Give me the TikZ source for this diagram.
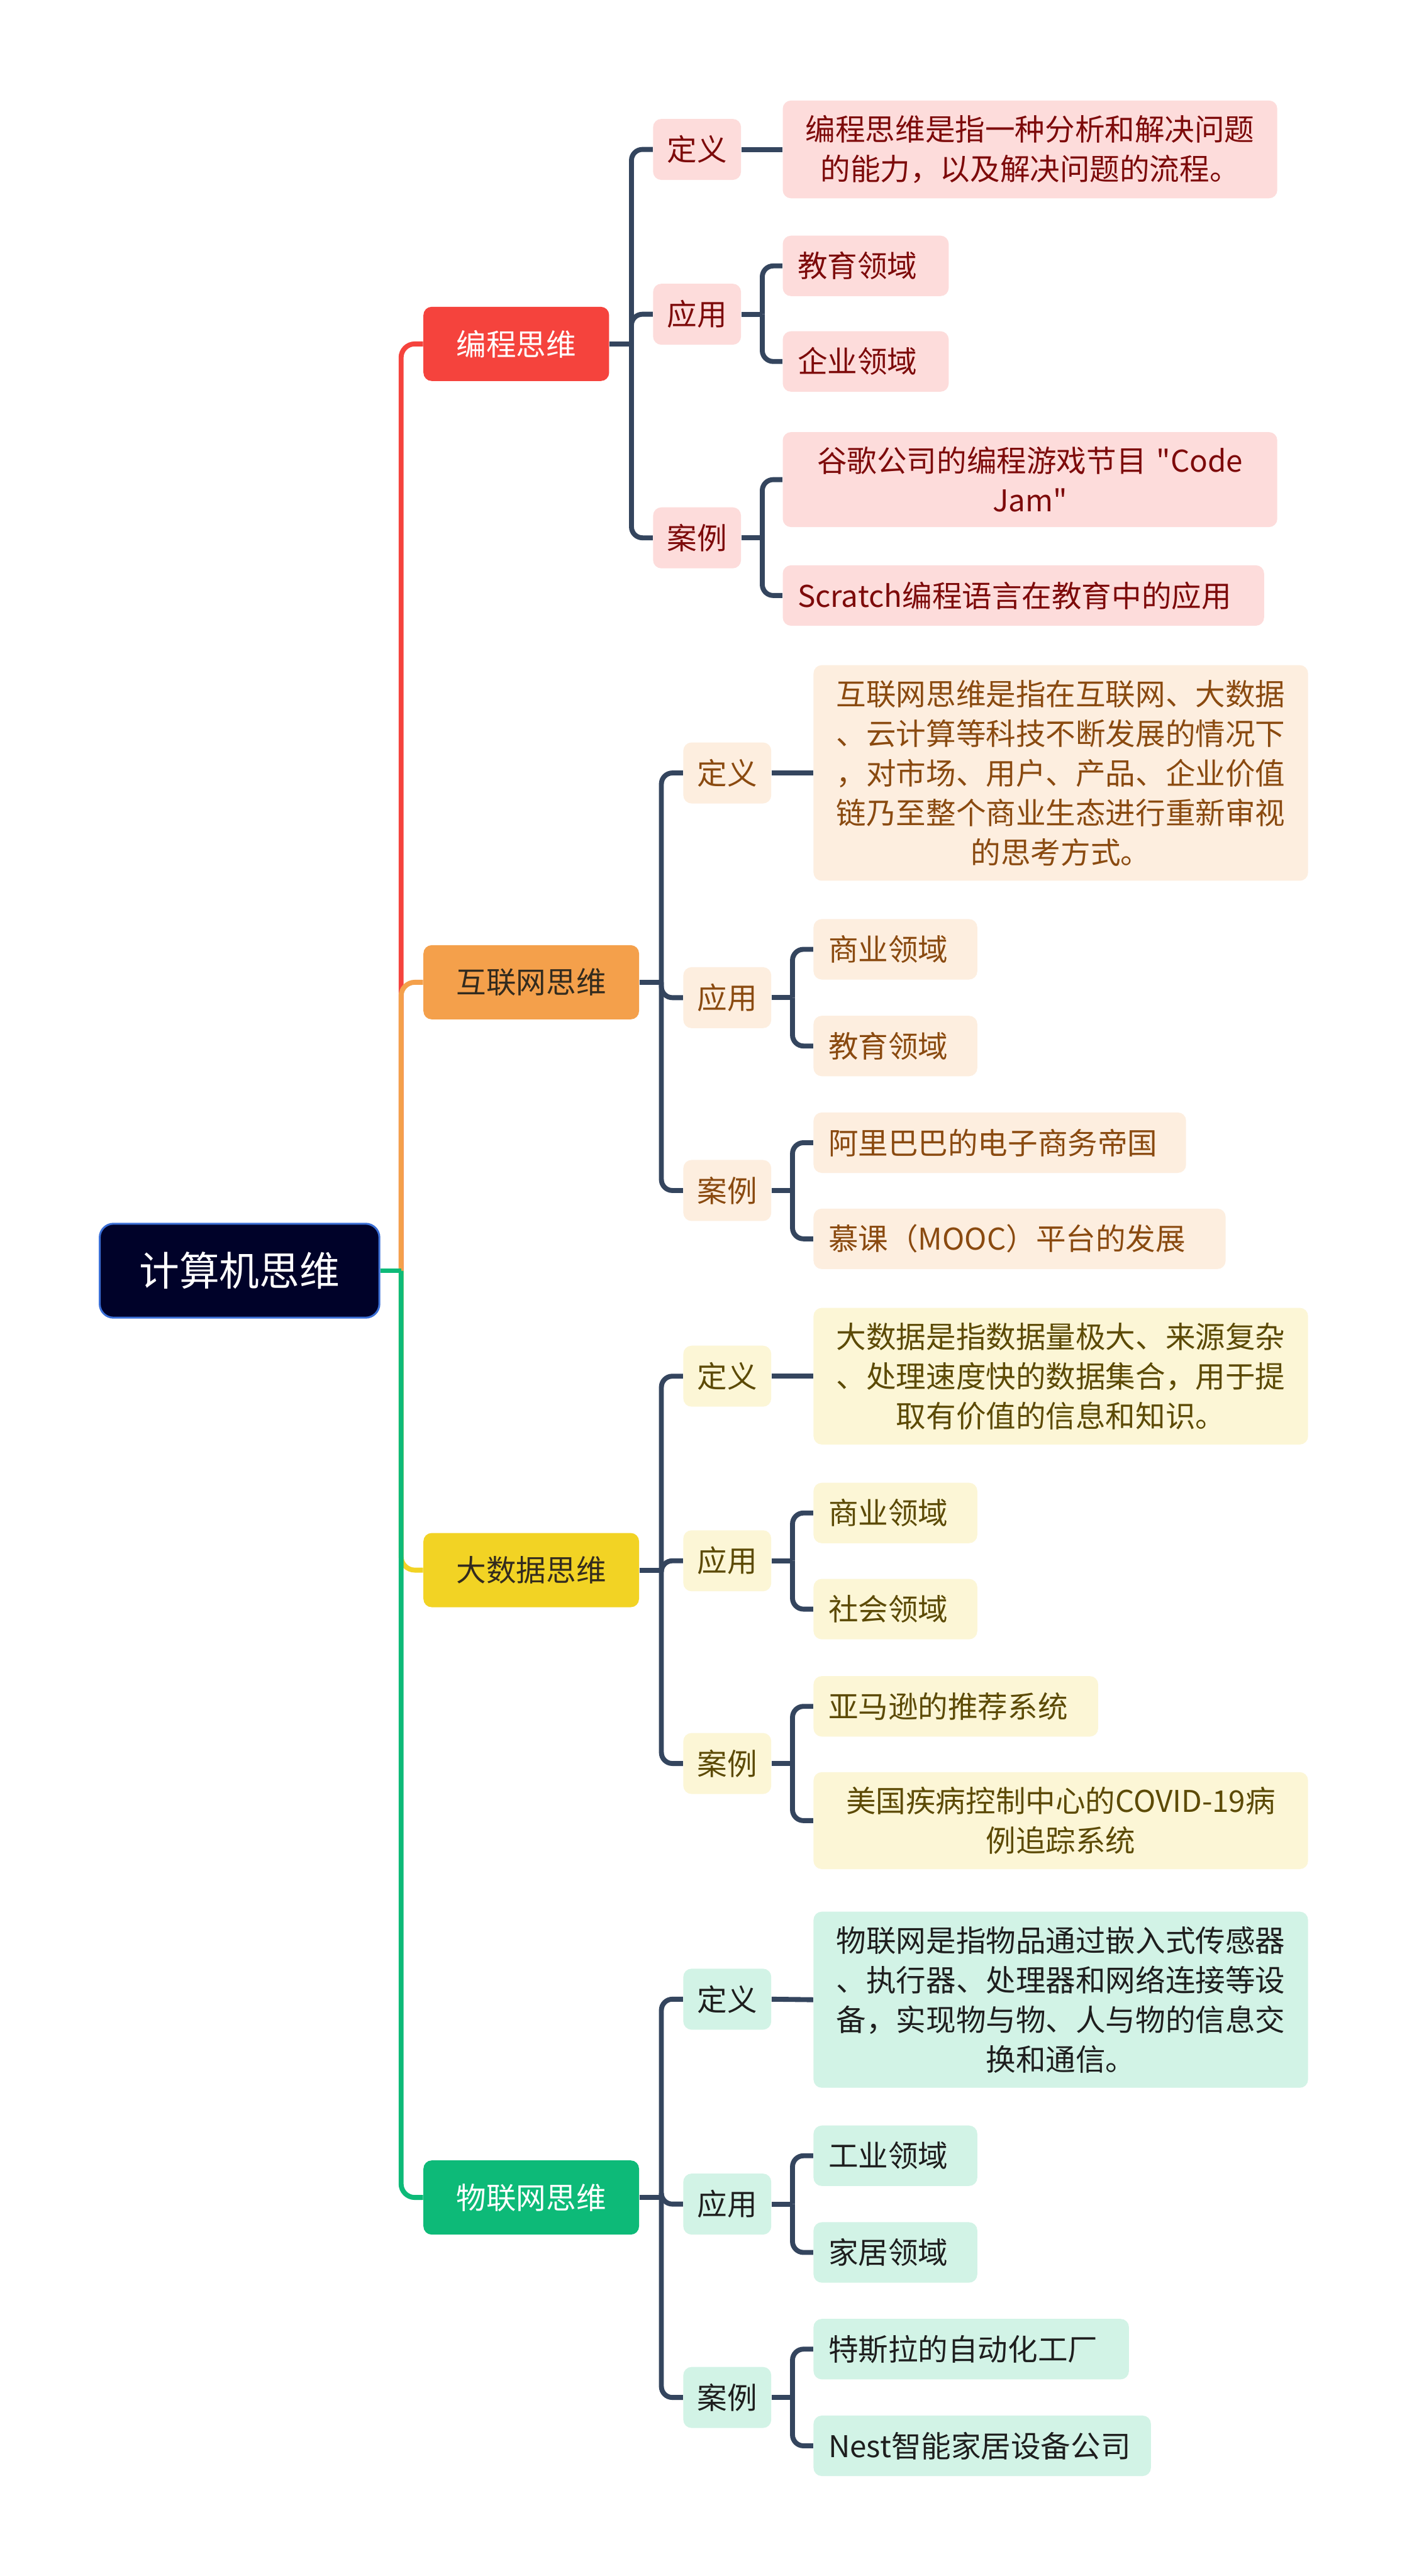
\documentclass[tikz,border=0pt]{standalone}
\usepackage{fontspec}
\setmainfont{Noto Sans CJK SC}[Ligatures=TeXOff]

\definecolor{rootFill}{HTML}{000229}
\definecolor{rootLine}{HTML}{3B6FD6}
\definecolor{linkGray}{HTML}{34455E}
\definecolor{topicText}{HTML}{332B1E}
\definecolor{bcRed}{HTML}{F5433D}
\definecolor{hlOrange}{HTML}{F4A04B}
\definecolor{dsjYellow}{HTML}{F2D324}
\definecolor{wlGreen}{HTML}{0DBA78}
\definecolor{bcFill}{HTML}{FDDCDB}
\definecolor{bcText}{HTML}{7D0A0A}
\definecolor{hlFill}{HTML}{FDEEDF}
\definecolor{hlText}{HTML}{8A4A10}
\definecolor{dsjFill}{HTML}{FCF6D6}
\definecolor{dsjText}{HTML}{5C4A05}
\definecolor{wlFill}{HTML}{D2F3E6}
\definecolor{wlText}{HTML}{1E1E1E}

\newcommand{\leafsize}{\fontsize{15.5pt}{20.5pt}\selectfont}
\newcommand{\rootsize}{\fontsize{20.8pt}{25pt}\selectfont}

\tikzset{
  box/.style={rounded corners=0.15cm, inner xsep=0.27cm, inner ysep=0.27cm,
    minimum height=1.10cm, font=\leafsize},
  rootbox/.style={fill=rootFill, draw=rootLine, line width=0.035cm,
    rounded corners=0.25cm, minimum width=5.09cm, minimum height=1.71cm,
    text=white, font=\rootsize},
  topic/.style={box, anchor=west, inner xsep=0.6cm, minimum height=1.35cm},
  tag/.style={box, anchor=west, inner xsep=0pt, minimum width=1.60cm,
    minimum height=1.11cm, fill=#1Fill, text=#1Text},
  leaf/.style={box, anchor=west, align=left, fill=#1Fill, text=#1Text},
  defn/.style={box, anchor=west, align=center, text width=8.46cm,
    fill=#1Fill, text=#1Text},
  trunk/.style={line width=0.09cm, rounded corners=0.25cm},
  link/.style={line width=0.09cm, draw=linkGray, rounded corners=0.2cm}
}

\begin{document}
\begin{tikzpicture}[x=1cm, y=-1cm]
  \fill[white] (0,0) rectangle (25.6,46.89);

  % Root
  \node[rootbox] (root) at (4.36,23.13) {计算机思维};
  \coordinate (hub) at (7.30,23.13);

  % First level
  \node[topic, fill=bcRed, text=white] (bc) at (7.70,6.26) {编程思维};
  \node[topic, fill=hlOrange, text=topicText] (hl) at (7.70,17.88) {互联网思维};
  \node[topic, fill=dsjYellow, text=topicText] (dsj) at (7.70,28.58) {大数据思维};
  \node[topic, fill=wlGreen, text=white] (wl) at (7.70,40.00) {物联网思维};

  % 编程思维
  \node[tag=bc] (bc-def) at (11.88,2.72) {定义};
  \node[tag=bc] (bc-app) at (11.88,5.72) {应用};
  \node[tag=bc] (bc-case) at (11.88,9.79) {案例};
  \node[defn=bc] (bc-def-txt) at (14.24,2.72)
    {编程思维是指一种分析和解决问题\\的能力，以及解决问题的流程。};
  \node[leaf=bc, text width=2.48cm] (bc-app1) at (14.24,4.84) {教育领域};
  \node[leaf=bc, text width=2.48cm] (bc-app2) at (14.24,6.58) {企业领域};
  \node[defn=bc] (bc-case1) at (14.24,8.73) {谷歌公司的编程游戏节目 "Code\\Jam"};
  \node[leaf=bc, text width=8.22cm] (bc-case2) at (14.24,10.84) {Scratch编程语言在教育中的应用};

  % 互联网思维
  \node[tag=hl] (hl-def) at (12.43,14.07) {定义};
  \node[tag=hl] (hl-app) at (12.43,18.16) {应用};
  \node[tag=hl] (hl-case) at (12.43,21.67) {案例};
  \node[defn=hl] (hl-def-txt) at (14.80,14.07)
    {互联网思维是指在互联网、大数据\\、云计算等科技不断发展的情况下\\，对市场、用户、产品、企业价值\\链乃至整个商业生态进行重新审视\\的思考方式。};
  \node[leaf=hl, text width=2.44cm] (hl-app1) at (14.80,17.28) {商业领域};
  \node[leaf=hl, text width=2.44cm] (hl-app2) at (14.80,19.04) {教育领域};
  \node[leaf=hl, text width=6.24cm] (hl-case1) at (14.80,20.80) {阿里巴巴的电子商务帝国};
  \node[leaf=hl, text width=6.96cm] (hl-case2) at (14.80,22.55) {慕课（MOOC）平台的发展};

  % 大数据思维
  \node[tag=dsj] (dsj-def) at (12.43,25.05) {定义};
  \node[tag=dsj] (dsj-app) at (12.43,28.41) {应用};
  \node[tag=dsj] (dsj-case) at (12.43,32.10) {案例};
  \node[defn=dsj] (dsj-def-txt) at (14.80,25.05)
    {大数据是指数据量极大、来源复杂\\、处理速度快的数据集合，用于提\\取有价值的信息和知识。};
  \node[leaf=dsj, text width=2.44cm] (dsj-app1) at (14.80,27.54) {商业领域};
  \node[leaf=dsj, text width=2.44cm] (dsj-app2) at (14.80,29.29) {社会领域};
  \node[leaf=dsj, text width=4.64cm] (dsj-case1) at (14.80,31.06) {亚马逊的推荐系统};
  \node[defn=dsj] (dsj-case2) at (14.80,33.14) {美国疾病控制中心的COVID-19病\\例追踪系统};

  % 物联网思维
  \node[tag=wl] (wl-def) at (12.43,36.39) {定义};
  \node[tag=wl] (wl-app) at (12.43,40.12) {应用};
  \node[tag=wl] (wl-case) at (12.43,43.64) {案例};
  \node[defn=wl] (wl-def-txt) at (14.80,36.40)
    {物联网是指物品通过嵌入式传感器\\、执行器、处理器和网络连接等设\\备，实现物与物、人与物的信息交\\换和通信。};
  \node[leaf=wl, text width=2.44cm] (wl-app1) at (14.80,39.24) {工业领域};
  \node[leaf=wl, text width=2.44cm] (wl-app2) at (14.80,41.00) {家居领域};
  \node[leaf=wl, text width=5.20cm] (wl-case1) at (14.80,42.76) {特斯拉的自动化工厂};
  \node[leaf=wl, text width=5.60cm] (wl-case2) at (14.80,44.52) {Nest智能家居设备公司};

  % Trunk, one colour per branch
  \foreach \b/\c in {bc/bcRed, hl/hlOrange, dsj/dsjYellow, wl/wlGreen}
    \draw[trunk, draw=\c] (hub) |- (\b.west);
  \draw[line width=0.09cm, draw=wlGreen] (root.east) -- (hub);

  % Branch connectors
  \foreach \b in {bc, hl, dsj, wl} {
    \draw[link] (\b.east) -- ++(0.40,0) coordinate (\b-hub);
    \foreach \t in {def, app, case}
      \draw[link] (\b-hub) |- (\b-\t.west);
    \draw[link] (\b-def.east) -- (\b-def-txt.west);
    \foreach \t in {app, case} {
      \draw[link] (\b-\t.east) -- ++(0.38,0) coordinate (\b-\t-hub);
      \draw[link] (\b-\t-hub) |- (\b-\t1.west);
      \draw[link] (\b-\t-hub) |- (\b-\t2.west);
    }
  }
\end{tikzpicture}
\end{document}
